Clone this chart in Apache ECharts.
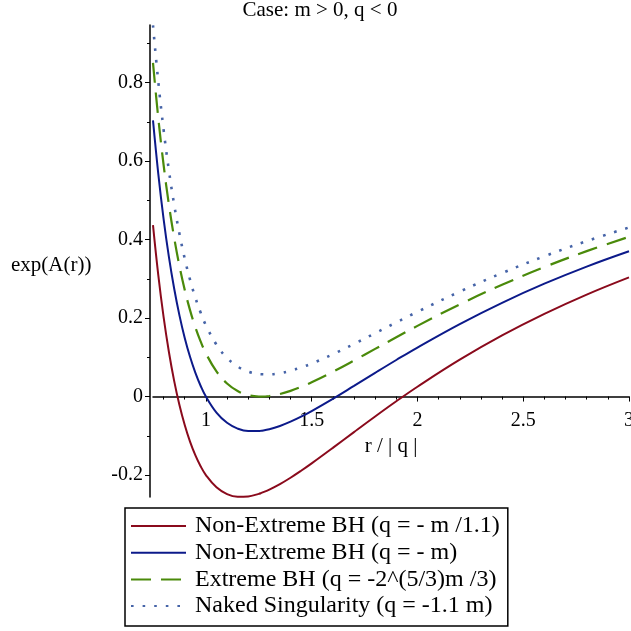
<!DOCTYPE html>
<html>
<head>
<meta charset="utf-8">
<script src="https://cdn.jsdelivr.net/npm/echarts@6/dist/echarts.min.js"></script>
<style>
html,body{margin:0;padding:0;background:#fff;}
#chart{width:631px;height:631px;}
</style>
</head>
<body>
<div id="chart"></div>
<script>
const xValues = [0.75,0.775,0.8,0.825,0.85,0.875,0.9,0.925,0.95,0.975,1.0,1.05,1.1,1.15,1.2,1.25,1.26,1.3,1.35,1.4,1.45,1.5,1.6,1.7,1.8,1.9,2.0,2.2,2.4,2.6,2.8,3.0];
const redVals = [0.4370,0.3096,0.2031,0.1142,0.0401,-0.0216,-0.0727,-0.1149,-0.1494,-0.1775,-0.2000,-0.2314,-0.2487,-0.2555,-0.2546,-0.2480,-0.2461,-0.2371,-0.2232,-0.2070,-0.1892,-0.1704,-0.1309,-0.0906,-0.0508,-0.0121,0.0250,0.0939,0.1557,0.2107,0.2598,0.3037];
const blueVals = [0.7037,0.5677,0.4531,0.3567,0.2754,0.2070,0.1495,0.1013,0.0611,0.0276,0.0000,-0.0409,-0.0669,-0.0816,-0.0880,-0.0880,-0.0874,-0.0833,-0.0750,-0.0641,-0.0513,-0.0370,-0.0059,0.0271,0.0604,0.0932,0.1250,0.1848,0.2390,0.2877,0.3313,0.3704];
const greenVals = [0.8505,0.7097,0.5908,0.4901,0.4049,0.3328,0.2719,0.2204,0.1770,0.1406,0.1101,0.0640,0.0332,0.0141,0.0038,0.0001,0.0000,0.0014,0.0065,0.0145,0.0246,0.0364,0.0630,0.0918,0.1215,0.1511,0.1801,0.2349,0.2849,0.3300,0.3706,0.4071];
const dotVals = [0.9461,0.8023,0.6804,0.5770,0.4893,0.4148,0.3515,0.2979,0.2525,0.2141,0.1818,0.1322,0.0984,0.0765,0.0636,0.0575,0.0569,0.0566,0.0596,0.0657,0.0741,0.0842,0.1078,0.1340,0.1614,0.1889,0.2159,0.2675,0.3148,0.3576,0.3962,0.4310];
const seriesNames = ['Non-Extreme BH (q = - m /1.1)','Non-Extreme BH (q = - m)','Extreme BH (q = -2^(5/3)m /3)','Naked Singularity (q = -1.1 m)'];
const xMajorTicks = [1,1.5,2,2.5,3];
const xMinorTicks = [0.8,0.9,1.1,1.2,1.3,1.4,1.6,1.7,1.8,1.9,2.1,2.2,2.3,2.4,2.6,2.7,2.8,2.9];
const yMajorTicks = [-0.2,0,0.2,0.4,0.6,0.8];
const yMinorTicks = [-0.1,0.1,0.3,0.5,0.7,0.9];
const titleText = 'Case: m > 0, q < 0';
const xName = 'r / | q |';
const yName = 'exp(A(r))';

const FONT = '"Liberation Serif","Times New Roman",serif';
const pairs = ys => xValues.map((x,i)=>[x, ys[i]]);
const X_MIN = 0.75, X_MAX = 3, Y_MIN = -0.256, Y_MAX = 0.947;
const GRID_TOP = 25, GRID_H = 472;
const X_LABEL_GAP = 14;
// pixel distance from the bottom of the grid to the y = 0 line (used to lift the x axis onto y = 0)
const zeroLift = GRID_H * (0 - Y_MIN) / (Y_MAX - Y_MIN);
// the last x label sits on the right edge of the canvas and is drawn separately so it is not pushed inward
const xLabelVals = xMajorTicks.slice(0, -1);
const xEdgeLabel = xMajorTicks[xMajorTicks.length - 1];

const chart = echarts.init(document.getElementById('chart'), null, {renderer:'canvas'});
const xAxisBase = {type:'value', min:X_MIN, max:X_MAX, position:'bottom', offset:-zeroLift, splitLine:{show:false},
  axisLine:{onZero:false, lineStyle:{color:'#000', width:1.5}}};
const yAxisBase = {type:'value', min:Y_MIN, max:Y_MAX, position:'left', offset:3, splitLine:{show:false},
  axisLine:{show:true, onZero:false, lineStyle:{color:'#000', width:1.5}}};

chart.setOption({
  animation:false,
  backgroundColor:'#fff',
  grid:{left:153, top:GRID_TOP, width:476, height:GRID_H, containLabel:false},
  xAxis:[
    Object.assign({}, xAxisBase, {
      axisTick:{show:true, length:5, customValues:xMajorTicks, lineStyle:{color:'#000', width:1}},
      axisLabel:{show:true, customValues:xLabelVals, margin:X_LABEL_GAP, color:'#000', fontSize:20, fontFamily:FONT,
        hideOverlap:false, formatter:v=>String(v)}
    }),
    Object.assign({}, xAxisBase, {
      axisLine:{show:false, onZero:false},
      axisTick:{show:true, length:3, customValues:xMinorTicks, lineStyle:{color:'#000', width:1}},
      axisLabel:{show:false}
    })
  ],
  yAxis:[
    Object.assign({}, yAxisBase, {
      axisTick:{show:true, length:5, customValues:yMajorTicks, lineStyle:{color:'#000', width:1}},
      axisLabel:{show:true, customValues:yMajorTicks, margin:7, color:'#000', fontSize:20, fontFamily:FONT,
        formatter:v=>String(v)}
    }),
    Object.assign({}, yAxisBase, {
      axisLine:{show:false},
      axisTick:{show:true, length:3, customValues:yMinorTicks, lineStyle:{color:'#000', width:1}},
      axisLabel:{show:false}
    })
  ],
  legend:{
    orient:'vertical', left:125, top:508,
    backgroundColor:'#fff',
    borderColor:'#000', borderWidth:1.5,
    padding:[6,8,8,5],
    itemWidth:55, itemHeight:14, itemGap:2.7,
    itemStyle:{opacity:0},
    textStyle:{color:'#000', fontSize:24, fontFamily:FONT, lineHeight:24, padding:[0,0,0,4]},
    data:seriesNames
  },
  graphic:[
    {type:'text', x:320, y:10, style:{text:titleText, fill:'#000', font:'21px ' + FONT, textAlign:'center', textVerticalAlign:'middle'}},
    {type:'text', x:391, y:446, style:{text:xName, fill:'#000', font:'21px ' + FONT, textAlign:'center', textVerticalAlign:'middle'}},
    {type:'text', x:11, y:265, style:{text:yName, fill:'#000', font:'21px ' + FONT, textAlign:'left', textVerticalAlign:'middle'}}
  ],
  series:[
    {name:seriesNames[0], type:'line', data:pairs(redVals), smooth:0.4, symbol:'none', xAxisIndex:0, yAxisIndex:0,
      lineStyle:{color:'#8a0a1c', width:2}, itemStyle:{color:'#8a0a1c'}},
    {name:seriesNames[1], type:'line', data:pairs(blueVals), smooth:0.4, symbol:'none', xAxisIndex:0, yAxisIndex:0,
      lineStyle:{color:'#0c1a8a', width:2}, itemStyle:{color:'#0c1a8a'}},
    {name:seriesNames[2], type:'line', data:pairs(greenVals), smooth:0.4, symbol:'none', xAxisIndex:0, yAxisIndex:0,
      lineStyle:{color:'#4a8a0a', width:2.2, type:[20,10], cap:'butt'}, itemStyle:{color:'#4a8a0a'}},
    {name:seriesNames[3], type:'line', data:pairs(dotVals), smooth:0.4, symbol:'none', xAxisIndex:0, yAxisIndex:0,
      lineStyle:{color:'#4664a8', width:2.6, type:[2.6,9], cap:'butt'}, itemStyle:{color:'#4664a8'}}
  ]
});

// place the edge label "3" through the library's own coordinate conversion
const edgePt = chart.convertToPixel({xAxisIndex:0, yAxisIndex:0}, [xEdgeLabel, 0]);
chart.setOption({
  graphic:[
    {type:'text', x:320, y:10, style:{text:titleText, fill:'#000', font:'21px ' + FONT, textAlign:'center', textVerticalAlign:'middle'}},
    {type:'text', x:391, y:446, style:{text:xName, fill:'#000', font:'21px ' + FONT, textAlign:'center', textVerticalAlign:'middle'}},
    {type:'text', x:11, y:265, style:{text:yName, fill:'#000', font:'21px ' + FONT, textAlign:'left', textVerticalAlign:'middle'}},
    {type:'text', x:edgePt[0], y:edgePt[1] + X_LABEL_GAP, style:{text:String(xEdgeLabel), fill:'#000', font:'20px ' + FONT, textAlign:'center', textVerticalAlign:'top'}}
  ]
});
</script>
</body>
</html>
